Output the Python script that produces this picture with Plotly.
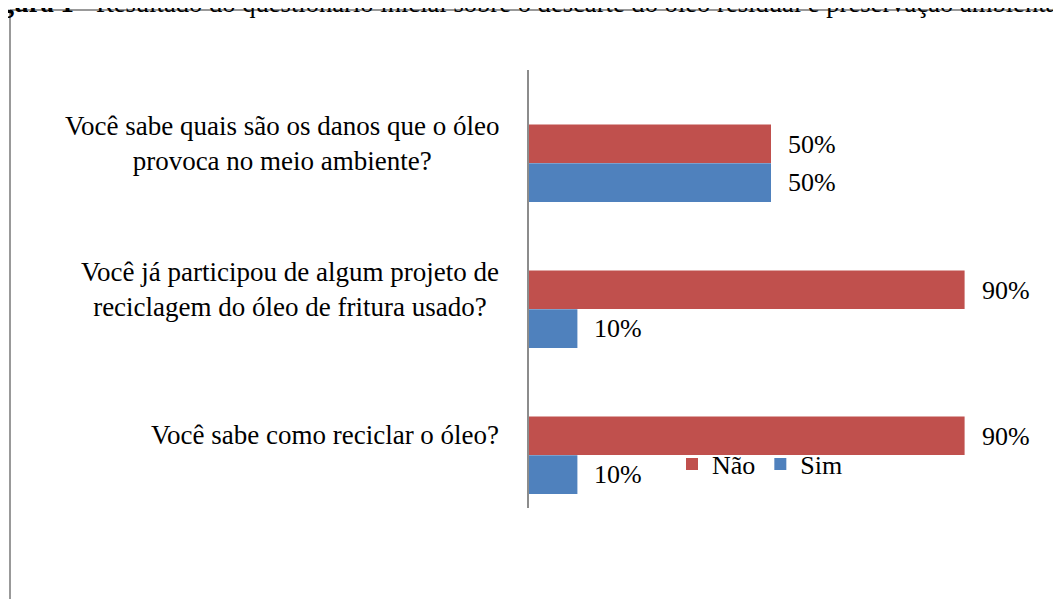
import plotly.graph_objects as go

categories = [
    "Você sabe como reciclar o óleo?",
    "Você já participou de algum projeto de<br>reciclagem do óleo de fritura usado?",
    "Você sabe quais são os danos que o óleo<br>provoca no meio ambiente?",
]
sim_values = [10, 10, 50]
nao_values = [90, 90, 50]
series_names = ["Sim", "Não"]
title_bold = "Figura 1"
title_rest = " - Resultado do questionário inicial sobre o descarte do óleo residual e preservação ambiental"

FONT = "Liberation Serif"
RED = "#C0504D"
BLUE = "#4F81BD"

# the page body adds an 8px offset; layout numbers below are in screen pixels
OFF = 8
W, H = 1061, 599
L = 529 - OFF
T = 70 - OFF
R = W - (1013 - OFF)
B = H - (508 - OFF)
pw, ph = W - L - R, H - T - B
bottom = H - B


def px_x(x):
    return (x - OFF - L) / pw


def px_y(y):
    return (bottom - (y - OFF)) / ph


fig = go.Figure()
fig.add_trace(go.Bar(
    y=categories, x=sim_values, name=series_names[0], orientation="h",
    marker=dict(color=BLUE, line=dict(width=0)),
    offset=-0.404, width=0.266, hoverinfo="x",
))
fig.add_trace(go.Bar(
    y=categories, x=nao_values, name=series_names[1], orientation="h",
    marker=dict(color=RED, line=dict(width=0)),
    offset=-0.137, width=0.263, hoverinfo="x",
))

annotations = []
for c, v in zip(categories, nao_values):
    annotations.append(dict(x=v, y=c, xref="x", yref="y", text=f"{v}%",
                            showarrow=False, xanchor="left", yanchor="middle",
                            xshift=15, yshift=-1,
                            font=dict(family=FONT, size=26, color="black")))
for c, v in zip(categories, sim_values):
    annotations.append(dict(x=v, y=c, xref="x", yref="y", text=f"{v}%",
                            showarrow=False, xanchor="left", yanchor="middle",
                            xshift=15, yshift=-39,
                            font=dict(family=FONT, size=26, color="black")))
for c in categories:
    annotations.append(dict(x=0, y=c, xref="paper", yref="y", text=c,
                            showarrow=False, xanchor="right", yanchor="middle",
                            align="center", xshift=-28, yshift=0,
                            font=dict(family=FONT, size=27, color="black")))
# clipped figure caption at the very top
annotations.append(dict(x=px_x(-25), y=px_y(3), xref="paper", yref="paper",
                        text=f"<b>{title_bold}</b>{title_rest}", showarrow=False,
                        xanchor="left", yanchor="middle", align="left",
                        font=dict(family=FONT, size=26.6, color="black")))

shapes = [
    dict(type="line", xref="paper", yref="paper",
         x0=px_x(10), x1=px_x(1100), y0=px_y(10), y1=px_y(10),
         line=dict(color="#999999", width=2)),
    dict(type="line", xref="paper", yref="paper",
         x0=px_x(10), x1=px_x(10), y0=px_y(10), y1=px_y(640),
         line=dict(color="#999999", width=2)),
]

fig.update_layout(
    width=W, height=H,
    margin=dict(l=L, r=R, t=T, b=B, pad=0),
    paper_bgcolor="white", plot_bgcolor="white",
    barmode="overlay",
    showlegend=True,
    legend=dict(orientation="h", traceorder="reversed",
                x=px_x(672), y=px_y(464), xanchor="left", yanchor="middle",
                bgcolor="rgba(0,0,0,0)", font=dict(family=FONT, size=26, color="black"),
                itemclick=False),
    xaxis=dict(range=[0, 100], visible=False, fixedrange=True),
    yaxis=dict(type="category", categoryorder="array", categoryarray=categories,
               range=[-0.5, 2.5], showticklabels=False, ticks="",
               showline=True, linecolor="#8c8c8c", linewidth=2,
               showgrid=False, zeroline=False, fixedrange=True),
    annotations=annotations,
    shapes=shapes,
    font=dict(family=FONT),
)

fig.write_html("out.html")
